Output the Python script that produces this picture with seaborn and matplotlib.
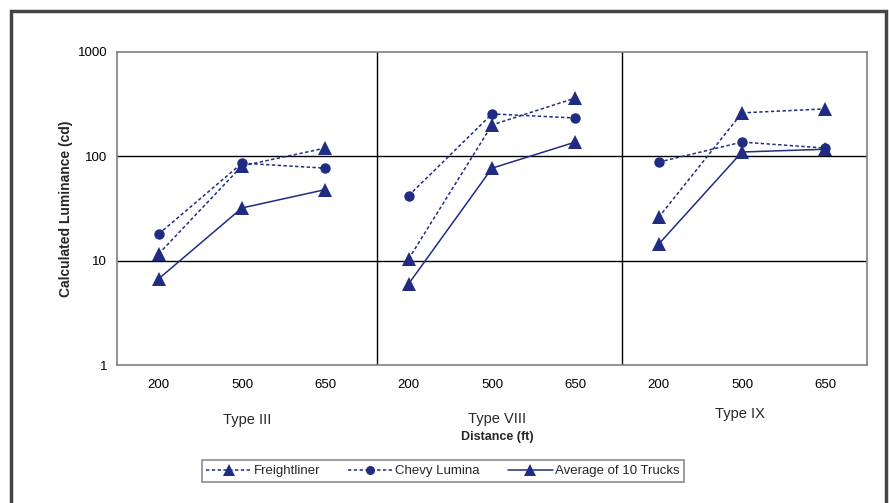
import matplotlib
matplotlib.use("Agg")
import matplotlib.pyplot as plt
from matplotlib.lines import Line2D
from matplotlib.patches import Rectangle
from matplotlib.ticker import FixedLocator, NullLocator
import numpy as np
import pandas as pd
import seaborn as sns

# ---- data ----
panels = ["Type III", "Type VIII", "Type IX"]
distances = ["200", "500", "650"]
freightliner = [11.6, 81, 120, 10.4, 200, 362, 26, 261, 285]
chevy_lumina = [18, 86, 77, 42, 255, 233, 88, 137, 120]
average_10 = [6.7, 32, 48, 6.0, 77, 137, 14.4, 110, 117]
series_names = ["Freightliner", "Chevy Lumina", "Average of 10 Trucks"]

rows = []
for sname, vals in zip(series_names, [freightliner, chevy_lumina, average_10]):
    for i, v in enumerate(vals):
        rows.append({"pos": i, "value": v, "series": sname, "panel": panels[i // 3]})
df = pd.DataFrame(rows)

sns.set_theme(style="white")
plt.rcParams["font.family"] = ["Liberation Sans", "DejaVu Sans"]

navy = "#1f2c82"
fig = plt.figure(figsize=(8.89, 5.03), dpi=100)
ax = fig.add_axes([117/889, 1-365/503, (867-117)/889, (365-52)/503])

# outer frame
fig.patches.append(Rectangle((11/889, -0.05), (886-11)/889, 1.05 - 11/503,
                             transform=fig.transFigure, fill=False,
                             edgecolor="#444444", linewidth=2.5))

sns.lineplot(data=df, x="pos", y="value", hue="series", style="series",
             units="panel", estimator=None, ax=ax, legend=False,
             palette={s: navy for s in series_names},
             dashes={"Freightliner": (2.2, 1.6), "Chevy Lumina": (2.2, 1.6),
                     "Average of 10 Trucks": ""},
             markers={"Freightliner": "^", "Chevy Lumina": "o",
                      "Average of 10 Trucks": "^"},
             linewidth=1.1, markeredgewidth=0)
for ln in ax.lines:
    if ln.get_marker() == "^":
        ln.set_markersize(9.5)
    else:
        ln.set_markersize(7.5)

ax.set_yscale("log")
ax.set_ylim(1, 1000)
ax.set_xlim(-0.5, 8.5)

# gridlines and dividers
for yv in [10, 100]:
    ax.axhline(yv, color="black", linewidth=1.0, zorder=0)
for xv in [2.625, 5.56]:
    ax.axvline(xv, color="black", linewidth=1.0, zorder=0)

for sp in ax.spines.values():
    sp.set_color("#808080")
    sp.set_linewidth(1.2)

ax.yaxis.set_major_locator(FixedLocator([1, 10, 100, 1000]))
ax.yaxis.set_minor_locator(NullLocator())
ax.set_yticklabels(["1", "10", "100", "1000"])
ax.set_xticks(range(9))
ax.set_xticklabels(distances * 3)
ax.set_xticks(np.arange(-0.5, 9, 1), minor=True)
ax.tick_params(axis="x", which="major", length=0, pad=10, labelsize=9.5, labelcolor="black")
ax.tick_params(axis="x", which="minor", length=4, width=1, color="#808080", direction="out")
ax.tick_params(axis="y", which="major", length=4, width=1, color="#808080", direction="out",
               labelsize=9.5, pad=3, labelcolor="black")

ax.set_xlabel("")
ax.set_ylabel("Calculated Luminance (cd)", fontsize=10, fontweight="bold", labelpad=3)

# panel labels
fig.text(247/889, 1-420/503, "Type III", ha="center", va="center", fontsize=10.5)
fig.text(497/889, 1-419/503, "Type VIII", ha="center", va="center", fontsize=10.5)
fig.text(740/889, 1-414/503, "Type IX", ha="center", va="center", fontsize=10.5)
fig.text(497/889, 1-437/503, "Distance (ft)", ha="center", va="center",
         fontsize=9, fontweight="bold")

handles = [
    Line2D([], [], color=navy, linestyle=(0, (2.2, 1.6)), linewidth=1.1, marker="^",
           markersize=8, markeredgewidth=0),
    Line2D([], [], color=navy, linestyle=(0, (2.2, 1.6)), linewidth=1.1, marker="o",
           markersize=6.5, markeredgewidth=0),
    Line2D([], [], color=navy, linestyle="-", linewidth=1.1, marker="^",
           markersize=8, markeredgewidth=0),
]
leg = fig.legend(handles, series_names, loc="center", ncol=3,
                 bbox_to_anchor=(443/889, 1-471/503), frameon=True, fancybox=False,
                 fontsize=9.5, handlelength=3.4, handletextpad=0.2, columnspacing=2.1,
                 borderpad=0.35, edgecolor="#707070")
leg.get_frame().set_linewidth(1.2)

fig.savefig("out.png", dpi=100)
